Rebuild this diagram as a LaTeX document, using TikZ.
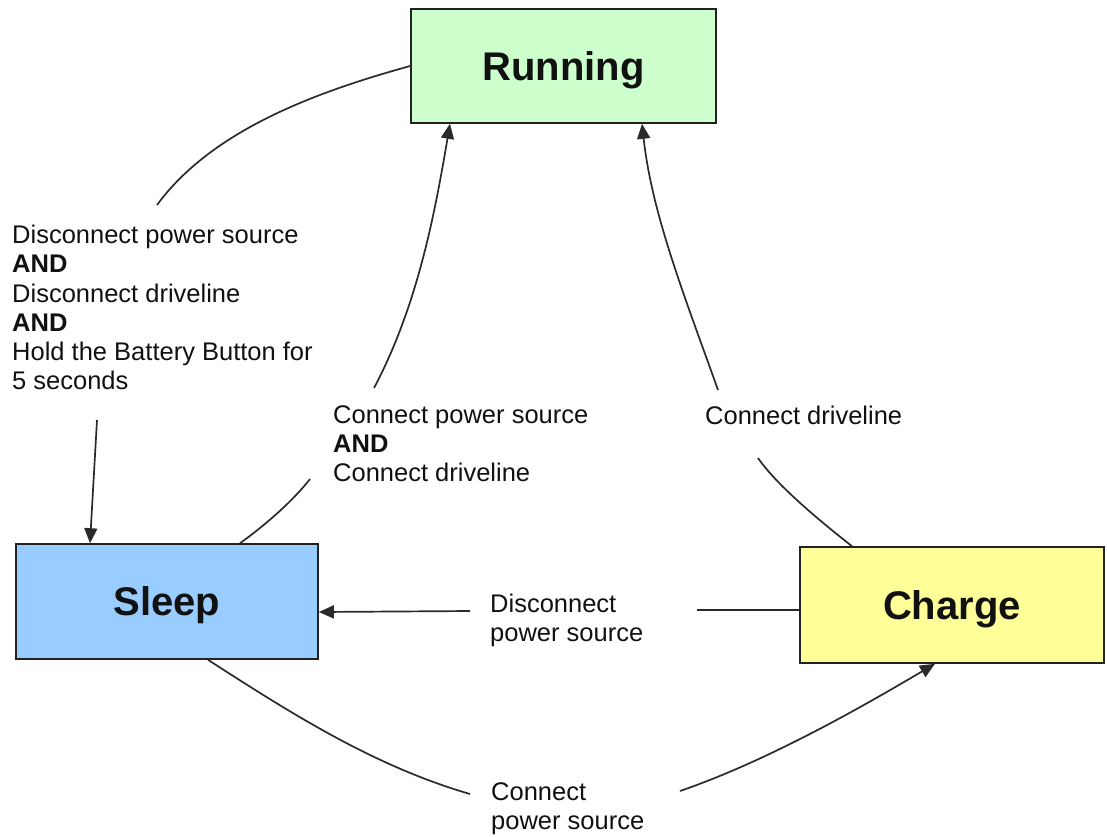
\documentclass[tikz,border=0pt]{standalone}
\usepackage{fontspec}
\setmainfont{Liberation Sans}
\usetikzlibrary{arrows.meta}
\definecolor{runfill}{HTML}{CCFFCC}
\definecolor{sleepfill}{HTML}{99CCFF}
\definecolor{chargefill}{HTML}{FFFF99}
\definecolor{boxline}{HTML}{222222}
\definecolor{conline}{HTML}{2A2A2A}
\definecolor{txt}{HTML}{111111}
\begin{document}
\begin{tikzpicture}[x=1pt,y=-1pt,
  statebox/.style={draw=boxline, line width=1.6pt, inner sep=0pt,
    text height=28.6pt, text depth=0pt, text=txt,
    font=\fontsize{40}{48}\selectfont\bfseries},
  lbl/.style={anchor=north west, inner sep=0pt, align=left, text=txt,
    font=\fontsize{25.5}{29.2}\selectfont},
  con/.style={draw=conline, line width=1.7pt},
  arr/.style={con, -{Triangle[length=15pt,width=13pt]}}]
\useasboundingbox (0,0) rectangle (1107,836);
\fill[white] (0,0) rectangle (1107,836);

% states
\node[statebox, fill=runfill, minimum width=305pt, minimum height=114pt] (Running) at (563.5,66) {Running};
\node[statebox, fill=sleepfill, minimum width=302pt, minimum height=115pt] (Sleep) at (167,601.5) {Sleep};
\node[statebox, fill=chargefill, minimum width=304pt, minimum height=116pt] (Charge) at (952,605) {Charge};

% labels
\node[lbl] (lab1) at (12,225) {Disconnect power source\\\textbf{AND}\\Disconnect driveline\\\textbf{AND}\\Hold the Battery Button for\\5 seconds};
\node[lbl] (lab2) at (333,405) {Connect power source\\\textbf{AND}\\Connect driveline};
\node[lbl] (lab3) at (705,406) {Connect driveline};
\node[lbl] (lab4) at (490,594) {Disconnect\\power source};
\node[lbl] (lab5) at (491,782) {Connect\\power source};

% gap ends of the connectors
\coordinate (c1a) at (157,205);
\coordinate (c1b) at (97,420);
\coordinate (c2a) at (310,479);
\coordinate (c2b) at (374,388);
\coordinate (c3a) at (758,458);
\coordinate (c3b) at (718,390);
\coordinate (c4a) at (697,610);
\coordinate (c4b) at (470,611);
\coordinate (c5a) at (470,794);
\coordinate (c5b) at (680,791);

% Running -> Sleep
\draw[con] (Running.west) .. controls (316,92) and (212,130) .. (c1a);
\draw[arr] (c1b) -- ([xshift=-77pt]Sleep.north);

% Sleep -> Running
\draw[con] ([xshift=73pt]Sleep.north) .. controls (264,526) and (292,502) .. (c2a);
\draw[arr] (c2b) .. controls (418,305) and (435,212) .. ([xshift=-113.5pt]Running.south);

% Charge -> Running
\draw[con] ([xshift=-100pt]Charge.north) .. controls (825,525) and (778,487) .. (c3a);
\draw[arr] (c3b) .. controls (686,300) and (652,215) .. ([xshift=78.5pt]Running.south);

% Charge -> Sleep
\draw[con] ([yshift=-5pt]Charge.west) -- (c4a);
\draw[arr] (c4b) -- ([yshift=-10.5pt]Sleep.east);

% Sleep -> Charge
\draw[con] ([xshift=41pt]Sleep.south) .. controls (292,714) and (374,766) .. (c5a);
\draw[arr] (c5b) .. controls (770,760) and (865,705) .. ([xshift=-17pt]Charge.south);
\end{tikzpicture}
\end{document}
